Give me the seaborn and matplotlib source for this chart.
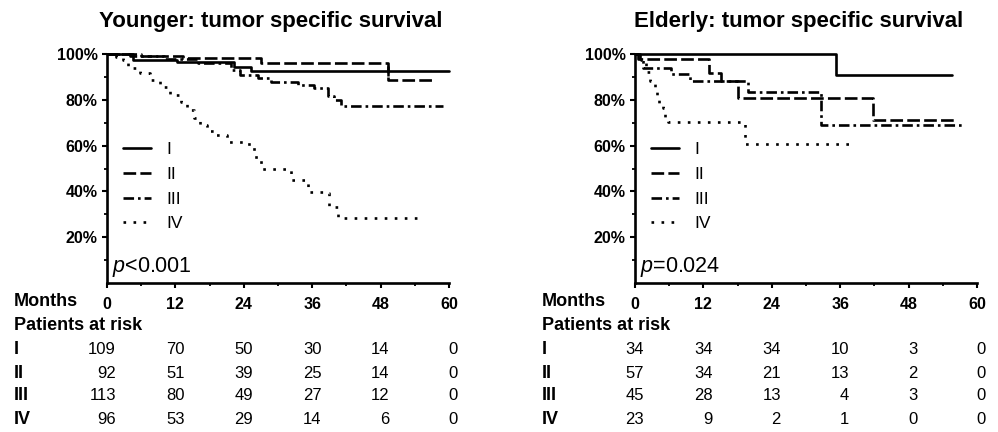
## Kaplan-Meier: tumor specific survival by stage, younger vs elderly

import seaborn as sns
import matplotlib.pyplot as plt
from matplotlib.transforms import blended_transform_factory

sns.set_style('ticks', {'axes.edgecolor': 'black', 'text.color': 'black',
                        'xtick.color': 'black', 'ytick.color': 'black',
                        'axes.labelcolor': 'black'})
plt.rcParams['font.family'] = ['Liberation Sans', 'DejaVu Sans']
plt.rcParams['mathtext.fontset'] = 'custom'
plt.rcParams['mathtext.rm'] = 'Liberation Sans'
plt.rcParams['mathtext.it'] = 'Liberation Sans:italic'

stages = ['I', 'II', 'III', 'IV']
month_ticks = [0, 12, 24, 36, 48, 60]
pct_ticks = [20, 40, 60, 80, 100]
pct_labels = ['20%', '40%', '60%', '80%', '100%']

# younger patients (months, % surviving)
young_I_m = [0, 4.6, 12.3, 22.2, 25.2, 60]
young_I_s = [100, 97.4, 96.4, 94.5, 92.6, 92.6]
young_II_m = [0, 6, 13.4, 27, 49.3, 57.4]
young_II_s = [100, 99, 98.1, 95.9, 88.6, 88.6]
young_III_m = [0, 4, 10, 16, 21.7, 23.4, 26.5, 28.7, 33.5, 36.3, 38.7, 39.8, 41, 59]
young_III_s = [100, 99, 98, 96, 93, 90.8, 89.5, 87.8, 86.5, 85, 81.8, 79.9, 77.3, 77.3]
young_IV_m = [0, 1.5, 2.8, 3.7, 5.8, 7.6, 9.3, 11.1, 12.9, 14.1, 15.3, 16.4, 17.6,
              18.8, 21.1, 24.6, 25.8, 27, 30.5, 32.3, 35.2, 38.1, 39, 40.5, 55.1]
young_IV_s = [100, 98.5, 97.4, 93.9, 91.6, 88.6, 85.7, 82.1, 79.2, 75.4, 72, 68.9, 66.5,
              64.5, 61.6, 60.9, 55.1, 50, 50, 44.9, 39.9, 39.1, 33.3, 28.3, 28.3]

# elderly patients
old_I_m = [0, 35.3, 55.7]
old_I_s = [100, 90.8, 90.8]
old_II_m = [0, 0.5, 12.9, 15, 18, 41.7, 56]
old_II_s = [100, 97.7, 91.5, 88.4, 80.9, 71.2, 71.2]
old_III_m = [0, 0.8, 1.4, 6.3, 9.7, 19.9, 32.7, 57.5]
old_III_s = [100, 97.4, 94, 91.3, 88.4, 83.6, 69, 69]
old_IV_m = [0, 1, 2, 2.6, 3.5, 3.8, 4.2, 4.9, 5.3, 5.8, 19.3, 38.5]
old_IV_s = [100, 97.4, 92.3, 88, 85.7, 81.4, 78.6, 76.4, 72.6, 70.4, 60.7, 60.7]

# patients at risk at 0, 12, 24, 36, 48, 60 months
young_risk = [[109, 70, 50, 30, 14, 0],
              [92, 51, 39, 25, 14, 0],
              [113, 80, 49, 27, 12, 0],
              [96, 53, 29, 14, 6, 0]]
old_risk = [[34, 34, 34, 10, 3, 0],
            [57, 34, 21, 13, 2, 0],
            [45, 28, 13, 4, 3, 0],
            [23, 9, 2, 1, 0, 0]]

line_styles = ['-', (0, (4.8, 1.6)), (0, (4, 1.5, 1, 1.5)), (0, (1, 2.8))]

fig = plt.figure(figsize=(9.98, 4.32), dpi=100)
W, H = 998, 432


def panel(left_px, curves, risk, title, ptext, label_px, censor=None):
    ax = fig.add_axes([left_px / W, 1 - 283 / H, 342 / W, 229 / H])
    for (m, s), st, ls in zip(curves, stages, line_styles):
        sns.lineplot(x=m, y=s, ax=ax, color='black', drawstyle='steps-post',
                     linestyle=ls, linewidth=1.9, label=st, clip_on=False)
    if censor is not None:
        ax.plot([censor[0]], [censor[1]], marker='|', color='black',
                markersize=7, markeredgewidth=1.8)
    ax.set_xlim(0, 60)
    ax.set_ylim(0, 100)
    ax.set_xticks(month_ticks)
    ax.set_xticks([6, 18, 30, 42, 54], minor=True)
    ax.set_yticks(pct_ticks)
    ax.set_yticklabels(pct_labels)
    ax.set_yticks([10, 30, 50, 70, 90], minor=True)
    ax.tick_params(which='major', length=3.6, width=1.5, labelsize=11.5)
    ax.tick_params(which='minor', length=2.2, width=1.3)
    ax.tick_params(axis='x', which='major', pad=6.2)
    ax.tick_params(axis='y', which='major', pad=3)
    for lab in ax.get_xticklabels() + ax.get_yticklabels():
        lab.set_fontweight('bold')
    sns.despine(ax=ax)
    for sp in ['left', 'bottom']:
        ax.spines[sp].set_linewidth(1.9)
    ax.set_xlabel('')
    ax.set_ylabel('')
    ax.legend(loc='center left', bbox_to_anchor=(0.047, 0.42), frameon=False,
              handlelength=1.6, handletextpad=0.9, labelspacing=0.55,
              borderpad=0, borderaxespad=0, fontsize=12.5)
    ax.text(0.015, 0.07, ptext, transform=ax.transAxes, fontsize=15.5,
            va='center', ha='left')
    cx = (left_px + 171 - 7) / W
    fig.text(cx, 1 - 21 / H, title, ha='center', va='center',
             fontsize=16, fontweight='bold')

    # number at risk table
    tr = blended_transform_factory(ax.transData, fig.transFigure)
    fig.text(label_px / W, 1 - 302 / H, 'Months', fontsize=13,
             fontweight='bold', va='center', ha='left')
    fig.text(label_px / W, 1 - 325 / H, 'Patients at risk', fontsize=13,
             fontweight='bold', va='center', ha='left')
    row_y = [349, 373, 396, 419]
    for st, counts, yy in zip(stages, risk, row_y):
        fig.text(label_px / W, 1 - yy / H, st, fontsize=13, fontweight='bold',
                 va='center', ha='left')
        for m, n in zip(month_ticks, counts):
            ax.text(m + 1.6, 1 - yy / H, str(n), transform=tr, fontsize=12,
                    ha='right', va='center')
    return ax


panel(107, [(young_I_m, young_I_s), (young_II_m, young_II_s),
            (young_III_m, young_III_s), (young_IV_m, young_IV_s)],
      young_risk, 'Younger: tumor specific survival', r'$p$<0.001', 14,
      censor=(49.3, 92.6))
panel(635, [(old_I_m, old_I_s), (old_II_m, old_II_s),
            (old_III_m, old_III_s), (old_IV_m, old_IV_s)],
      old_risk, 'Elderly: tumor specific survival', r'$p$=0.024', 542)

plt.savefig('out.png', dpi=100)
